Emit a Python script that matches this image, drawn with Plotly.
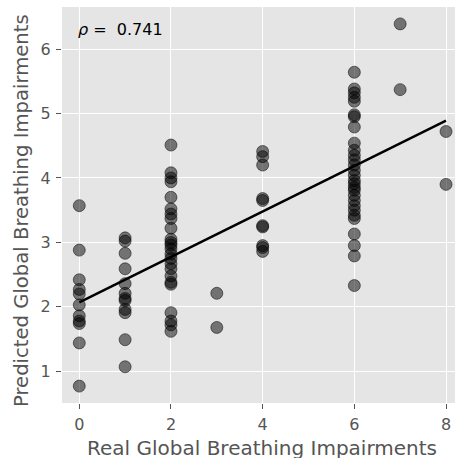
import numpy as np
import plotly.graph_objects as go

# Predicted values grouped by real value
real_levels = [0, 1, 2, 3, 4, 6, 7, 8]
pred_0 = [3.57, 2.88, 2.42, 2.27, 2.20, 2.03, 1.86, 1.78, 1.74, 1.44, 0.77]
pred_1 = [3.07, 3.02, 2.83, 2.59, 2.36, 2.21, 2.13, 2.10, 1.96, 1.91, 1.49, 1.07]
pred_2 = [4.51, 4.08, 4.00, 3.94, 3.70, 3.52, 3.44, 3.37, 3.22, 3.05, 3.00,
          2.96, 2.90, 2.82, 2.75, 2.67, 2.59, 2.48, 2.38, 2.35, 1.91, 1.78,
          1.72, 1.62]
pred_3 = [2.21, 1.68]
pred_4 = [4.41, 4.33, 4.20, 3.68, 3.65, 3.26, 3.24, 2.95, 2.92, 2.86]
pred_6 = [5.64, 5.38, 5.32, 5.25, 5.19, 4.98, 4.95, 4.79, 4.54, 4.43, 4.35,
          4.28, 4.20, 4.12, 4.04, 3.96, 3.91, 3.85, 3.81, 3.73, 3.65, 3.57,
          3.50, 3.42, 3.37, 3.13, 2.95, 2.79, 2.33]
pred_7 = [6.39, 5.37]
pred_8 = [4.72, 3.90]
rho_text = "0.741"
x_title = "Real Global Breathing Impairments"
y_title = "Predicted Global Breathing Impairments"

groups = [pred_0, pred_1, pred_2, pred_3, pred_4, pred_6, pred_7, pred_8]
x = []
y = []
for lvl, g in zip(real_levels, groups):
    x += [lvl] * len(g)
    y += g
x = np.array(x, dtype=float)
y = np.array(y, dtype=float)

slope, intercept = np.polyfit(x, y, 1)
xl = np.array([x.min(), x.max()])
yl = intercept + slope * xl

W, H = 455, 458
ML, MR, MT, MB = 62, 0, 7, 55
pw = W - ML - MR
ph = H - MT - MB


def px(sx):
    return (sx - ML) / pw


def py(sy):
    return (H - MB - sy) / ph


fig = go.Figure()
fig.add_trace(go.Scatter(
    x=x, y=y, mode="markers",
    marker=dict(size=12, color="rgba(0,0,0,0.5)",
                line=dict(color="rgba(0,0,0,0.5)", width=1)),
    showlegend=False, hoverinfo="skip"))
fig.add_trace(go.Scatter(
    x=xl, y=yl, mode="lines",
    line=dict(color="black", width=2.5),
    showlegend=False, hoverinfo="skip"))

fig.add_annotation(
    xref="paper", yref="paper", x=px(76), y=py(30),
    xanchor="left", yanchor="middle",
    text="<i>ρ</i> =  " + rho_text, showarrow=False,
    font=dict(family="DejaVu Sans", size=16, color="black"))
fig.add_annotation(
    xref="paper", yref="paper", x=px(262), y=py(448),
    xanchor="center", yanchor="middle",
    text=x_title, showarrow=False,
    font=dict(family="DejaVu Sans", size=20, color="#555555"))
fig.add_annotation(
    xref="paper", yref="paper", x=px(21), y=py(211),
    xanchor="center", yanchor="middle", textangle=-90,
    text=y_title, showarrow=False,
    font=dict(family="DejaVu Sans", size=19.6, color="#555555"))

axis_common = dict(
    showgrid=True, gridcolor="white", gridwidth=1,
    zeroline=False, showline=False, automargin=False,
    ticks="outside", ticklen=5, tickwidth=1, tickcolor="#555555",
    tickfont=dict(family="DejaVu Sans", size=16, color="#555555"),
)

fig.update_layout(
    width=W, height=H,
    margin=dict(l=ML, r=MR, t=MT, b=MB),
    plot_bgcolor="#e5e5e5", paper_bgcolor="white",
    font=dict(family="DejaVu Sans", color="#555555"),
    xaxis=dict(range=[-0.377, 8.196], tickvals=[0, 2, 4, 6, 8],
               ticklabelstandoff=2, **axis_common),
    yaxis=dict(range=[0.508, 6.652], tickvals=[1, 2, 3, 4, 5, 6],
               ticklabelstandoff=2, **axis_common),
)

fig.write_html("out.html", config={"displayModeBar": False},
               post_script="document.body.style.margin='0';")
